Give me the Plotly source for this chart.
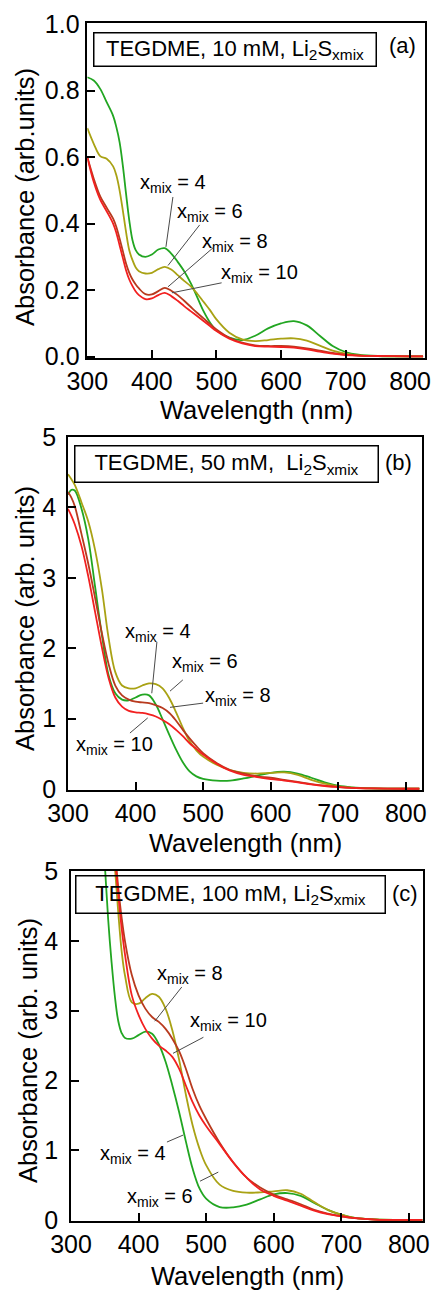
import plotly.graph_objects as go

W, H = 434, 1292

# ---------------- data ----------------
wl_a = [300, 310, 320, 330, 340, 345, 350, 355, 360, 365, 370, 375, 380,
        390, 400, 410, 420, 430, 440, 450, 460, 470, 480, 490, 500,
        520, 540, 560, 580, 600, 620, 640, 660, 680, 700, 720, 750, 800, 820]
a_x4 = [0.84, 0.83, 0.805, 0.765, 0.724, 0.69, 0.645, 0.575, 0.49, 0.41, 0.35, 0.32, 0.307,
        0.300, 0.307, 0.322, 0.326, 0.31, 0.285, 0.257, 0.222, 0.18, 0.137, 0.103, 0.079,
        0.057, 0.05, 0.063, 0.085, 0.10, 0.107, 0.094, 0.063, 0.032, 0.014, 0.006, 0.002, 0.001, 0.001]
a_x6 = [0.687, 0.64, 0.603, 0.595, 0.572, 0.545, 0.50, 0.44, 0.375, 0.32, 0.29, 0.268, 0.257,
        0.25, 0.252, 0.263, 0.27, 0.262, 0.245, 0.228, 0.212, 0.19, 0.165, 0.14, 0.112,
        0.072, 0.052, 0.047, 0.05, 0.054, 0.055, 0.048, 0.033, 0.018, 0.009, 0.004, 0.002, 0.001, 0.001]
a_x8 = [0.60, 0.535, 0.482, 0.448, 0.415, 0.39, 0.355, 0.318, 0.28, 0.252, 0.232, 0.217, 0.205,
        0.188, 0.187, 0.197, 0.207, 0.198, 0.185, 0.168, 0.15, 0.132, 0.115, 0.098, 0.082,
        0.057, 0.042, 0.034, 0.032, 0.032, 0.03, 0.025, 0.018, 0.011, 0.006, 0.003, 0.002, 0.001, 0.001]
a_x10 = [0.60, 0.525, 0.472, 0.437, 0.40, 0.372, 0.335, 0.297, 0.26, 0.232, 0.212, 0.196, 0.185,
         0.173, 0.175, 0.185, 0.192, 0.182, 0.168, 0.152, 0.137, 0.122, 0.107, 0.092, 0.077,
         0.054, 0.04, 0.032, 0.03, 0.029, 0.027, 0.022, 0.015, 0.009, 0.005, 0.003, 0.002, 0.001, 0.001]

wl_b = [300, 305, 310, 320, 330, 340, 350, 360, 370, 380,
        390, 400, 410, 420, 430, 440, 450, 460, 470, 480, 490, 500,
        520, 540, 560, 580, 600, 620, 640, 660, 680, 700, 720, 750, 800, 820]
b_x4 = [4.18, 4.25, 4.24, 3.98, 3.55, 2.88, 2.20, 1.62, 1.36, 1.27,
        1.26, 1.30, 1.34, 1.33, 1.20, 0.99, 0.77, 0.56, 0.38, 0.25, 0.18, 0.145,
        0.12, 0.12, 0.15, 0.19, 0.23, 0.245, 0.22, 0.16, 0.095, 0.047, 0.024, 0.01, 0.005, 0.005]
b_x6 = [4.47, 4.40, 4.32, 4.07, 3.80, 3.40, 2.85, 2.15, 1.66, 1.47,
        1.43, 1.43, 1.47, 1.50, 1.49, 1.43, 1.29, 1.09, 0.87, 0.68, 0.55, 0.46,
        0.345, 0.27, 0.23, 0.22, 0.23, 0.235, 0.20, 0.13, 0.076, 0.038, 0.02, 0.008, 0.004, 0.004]
b_x8 = [4.22, 4.14, 4.02, 3.62, 3.20, 2.72, 2.22, 1.78, 1.47, 1.33,
        1.27, 1.24, 1.23, 1.22, 1.19, 1.15, 1.08, 0.97, 0.84, 0.72, 0.61, 0.51,
        0.37, 0.27, 0.22, 0.18, 0.16, 0.13, 0.10, 0.07, 0.047, 0.028, 0.016, 0.008, 0.004, 0.004]
b_x10 = [3.98, 3.88, 3.76, 3.45, 3.02, 2.52, 2.02, 1.58, 1.30, 1.17,
         1.11, 1.09, 1.08, 1.06, 1.03, 0.98, 0.92, 0.84, 0.75, 0.65, 0.57, 0.49,
         0.36, 0.26, 0.20, 0.17, 0.14, 0.12, 0.095, 0.066, 0.043, 0.028, 0.016, 0.008, 0.004, 0.004]

wl_c = [345, 350, 355, 360, 365, 370, 375, 380,
        390, 400, 410, 420, 430, 440, 450, 460, 470, 480, 490, 500,
        520, 540, 560, 580, 600, 620, 640, 660, 680, 700, 720, 750, 800, 820]
c_x4 = [5.8, 5.1, 4.31, 3.70, 3.20, 2.85, 2.68, 2.61,
        2.60, 2.65, 2.70, 2.67, 2.52, 2.27, 1.93, 1.55, 1.13, 0.74, 0.46, 0.31,
        0.19, 0.185, 0.225, 0.30, 0.37, 0.39, 0.35, 0.25, 0.15, 0.08, 0.035, 0.012, 0.005, 0.005]
c_x6 = [7.5, 6.8, 6.1, 5.6, 5.05, 4.4, 3.85, 3.50,
        3.12, 3.10, 3.18, 3.24, 3.20, 3.03, 2.72, 2.30, 1.80, 1.36, 1.03, 0.79,
        0.51, 0.42, 0.395, 0.40, 0.415, 0.43, 0.38, 0.26, 0.15, 0.08, 0.035, 0.012, 0.005, 0.005]
c_x8 = [8.0, 7.3, 6.6, 5.9, 5.3, 4.76, 4.33, 3.99,
        3.51, 3.22, 3.03, 2.91, 2.84, 2.74, 2.60, 2.42, 2.17, 1.88, 1.64, 1.45,
        1.11, 0.83, 0.61, 0.47, 0.37, 0.30, 0.23, 0.15, 0.096, 0.058, 0.03, 0.01, 0.005, 0.005]
c_x10 = [7.8, 7.1, 6.4, 5.8, 5.2, 4.66, 4.18, 3.80,
         3.22, 2.94, 2.74, 2.60, 2.50, 2.43, 2.34, 2.17, 1.93, 1.69, 1.50, 1.35,
         1.09, 0.83, 0.61, 0.44, 0.35, 0.28, 0.21, 0.14, 0.09, 0.058, 0.03, 0.01, 0.005, 0.005]

series_names = ["x<sub>mix</sub> = 4", "x<sub>mix</sub> = 6", "x<sub>mix</sub> = 8", "x<sub>mix</sub> = 10"]
panel_titles = ["TEGDME, 10 mM, Li<sub>2</sub>S<sub>xmix</sub>",
                "TEGDME, 50 mM,&nbsp; Li<sub>2</sub>S<sub>xmix</sub>",
                "TEGDME, 100 mM, Li<sub>2</sub>S<sub>xmix</sub>"]
panel_tags = ["(a)", "(b)", "(c)"]
y_titles = ["Absorbance (arb.units)", "Absorbance (arb. units)", "Absorbance (arb. units)"]
x_title = "Wavelength (nm)"
x_ticks = [300, 400, 500, 600, 700, 800]

# ---------------- styling / layout ----------------
colors = ["#22a622", "#a9a214", "#b83a1e", "#f22020"]
FONT = "Liberation Sans, Arial, sans-serif"

panels = [
    dict(wl=wl_a, ys=[a_x4, a_x6, a_x8, a_x10],
         px=(87.3, 425), py=(23, 358), xr=[300, 823], yr=[-0.004, 1.003],
         yt=[0, 0.2, 0.4, 0.6, 0.8, 1.0], fmt=".1f", ystand=1,
         box=(93, 377, 32, 67), tag=(402, 46),
         xtitle=(256, 410), ytitle=(25, 197),
         labels=[(433, 0.522, 432.6, 0.48, 421.8, 0.330),
                 (490, 0.432, 474, 0.396, 425, 0.274),
                 (528.6, 0.342, 494.6, 0.327, 425, 0.21),
                 (567, 0.249, 508, 0.222, 431, 0.192)]),
    dict(wl=wl_b, ys=[b_x4, b_x6, b_x8, b_x10],
         px=(68, 422), py=(437, 790), xr=[300, 824], yr=[-0.014, 5.0],
         yt=[0, 1, 2, 3, 4, 5], fmt="d", ystand=5,
         box=(74, 379, 445, 483), tag=(398, 463),
         xtitle=(245, 843), ytitle=(25, 619),
         labels=[(433, 2.22, 431.6, 2.09, 424, 1.36),
                 (502.7, 1.79, 470, 1.55, 451, 1.39),
                 (551.5, 1.32, 500, 1.22, 451, 1.16),
                 (369.5, 0.625, 391.7, 0.795, 418, 1.01)]),
    dict(wl=wl_c, ys=[c_x4, c_x6, c_x8, c_x10],
         px=(71, 423), py=(871, 1221), xr=[300, 821], yr=[-0.01, 5.0],
         yt=[0, 1, 2, 3, 4, 5], fmt="d", ystand=6,
         box=(75, 386, 875, 914), tag=(405, 893),
         xtitle=(247, 1276), ytitle=(28, 1051),
         labels=[(392, 0.946, 442, 1.12, 466, 1.22),
                 (432, 0.33, 491, 0.56, 518, 0.69),
                 (476, 3.52, 464, 3.34, 424, 2.85),
                 (533, 2.85, 496, 2.62, 451, 2.39)]),
]

fig = go.Figure()
annotations = []
shapes = []

for i, p in enumerate(panels):
    n = "" if i == 0 else str(i + 1)
    xa, ya = "x" + n, "y" + n
    for name, y, c in zip(series_names, p["ys"], colors):
        fig.add_trace(go.Scatter(x=p["wl"], y=y, mode="lines", name=name,
                                 line=dict(color=c, width=1.8, shape="spline"),
                                 xaxis=xa, yaxis=ya, showlegend=False))
    axis_common = dict(showline=True, linecolor="black", linewidth=1.5, mirror=True,
                       ticks="inside", ticklen=8, tickwidth=1.5, tickcolor="black",
                       showgrid=False, zeroline=False, automargin=False,
                       tickfont=dict(family=FONT, size=25, color="black"))
    fig.update_layout(**{
        "xaxis" + n: dict(axis_common, domain=[p["px"][0] / W, p["px"][1] / W],
                          range=p["xr"], tickvals=x_ticks, anchor=ya),
        "yaxis" + n: dict(axis_common, domain=[1 - p["py"][1] / H, 1 - p["py"][0] / H],
                          range=p["yr"], tickvals=p["yt"], tickformat=p["fmt"], anchor=xa,
                          ticklabelstandoff=p["ystand"]),
    })
    # axis titles
    annotations.append(dict(xref="paper", yref="paper", x=p["xtitle"][0] / W, y=1 - p["xtitle"][1] / H,
                            xanchor="center", yanchor="middle", text=x_title, showarrow=False,
                            font=dict(family=FONT, size=25.5, color="black")))
    annotations.append(dict(xref="paper", yref="paper", x=p["ytitle"][0] / W, y=1 - p["ytitle"][1] / H,
                            xanchor="center", yanchor="middle", text=y_titles[i], showarrow=False,
                            textangle=-90, font=dict(family=FONT, size=25.5, color="black")))
    # boxed panel title
    bx0, bx1, by0, by1 = p["box"]
    annotations.append(dict(xref="paper", yref="paper", x=(bx0 + bx1) / 2 / W,
                            y=1 - (by0 + by1) / 2 / H, xanchor="center", yanchor="middle",
                            text=panel_titles[i], showarrow=False,
                            font=dict(family=FONT, size=22, color="black"),
                            bordercolor="black", borderwidth=1.5, borderpad=0,
                            width=bx1 - bx0 - 3, height=by1 - by0 - 3, align="center"))
    annotations.append(dict(xref="paper", yref="paper", x=p["tag"][0] / W, y=1 - p["tag"][1] / H,
                            xanchor="center", yanchor="middle", text=panel_tags[i], showarrow=False,
                            font=dict(family=FONT, size=22, color="black")))
    # series labels with leader lines
    for name, (tx, ty, lx0, ly0, lx1, ly1) in zip(series_names, p["labels"]):
        annotations.append(dict(xref=xa, yref=ya, x=tx, y=ty, xanchor="center", yanchor="middle",
                                text=name, showarrow=False,
                                font=dict(family=FONT, size=20, color="black")))
        shapes.append(dict(type="line", xref=xa, yref=ya, x0=lx0, y0=ly0, x1=lx1, y1=ly1,
                           line=dict(color="#4a4a4a", width=1)))

fig.update_layout(template="none", width=W, height=H, margin=dict(l=0, r=0, t=0, b=0),
                  paper_bgcolor="white", plot_bgcolor="white",
                  font=dict(family=FONT, color="black"),
                  annotations=annotations, shapes=shapes)

fig.write_html("out.html")
